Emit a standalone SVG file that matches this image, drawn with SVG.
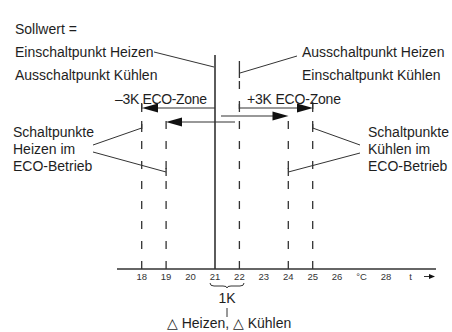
<svg xmlns="http://www.w3.org/2000/svg" width="452" height="332" viewBox="0 0 452 332">
  <style>
    .t { font-family: "Liberation Sans", "DejaVu Sans", Arial, sans-serif; font-size: 14px; fill: #1e1e1e; }
    .s { font-family: "Liberation Sans", Arial, sans-serif; font-size: 9.5px; fill: #333; }
    .ln { stroke: #333; fill: none; }
    .dash { stroke: #333; stroke-width: 1.3; stroke-dasharray: 8 12; fill: none; }
    .lead { stroke: #333; stroke-width: 1; fill: none; }
    .head { fill: #111; stroke: none; }
  </style>
  <rect width="452" height="332" fill="#fff"/>

  <g id="axis">
    <line class="ln" x1="117" y1="269" x2="436" y2="269" stroke-width="1.5"/>
    <text class="s" x="141.7" y="280" text-anchor="middle">18</text>
    <text class="s" x="166.1" y="280" text-anchor="middle">19</text>
    <text class="s" x="190.6" y="280" text-anchor="middle">20</text>
    <text class="s" x="215" y="280" text-anchor="middle">21</text>
    <text class="s" x="239.4" y="280" text-anchor="middle">22</text>
    <text class="s" x="263.8" y="280" text-anchor="middle">23</text>
    <text class="s" x="288.3" y="280" text-anchor="middle">24</text>
    <text class="s" x="312.7" y="280" text-anchor="middle">25</text>
    <text class="s" x="337.1" y="280" text-anchor="middle">26</text>
    <text class="s" x="361.6" y="280" text-anchor="middle">°C</text>
    <text class="s" x="386" y="280" text-anchor="middle">28</text>
    <text class="s" x="410.5" y="280" text-anchor="middle">t</text>
    <path class="ln" d="M424,276.5 H432" stroke-width="1"/>
    <path class="head" d="M435,276.5 L429,274 L429,279 Z"/>
  </g>

  <g id="setpoint-lines">
    <line class="ln" x1="215" y1="55" x2="215" y2="269" stroke-width="1.6"/>
    <line class="dash" x1="239.4" y1="269" x2="239.4" y2="54"/>
  </g>

  <g id="eco-lines">
    <line class="dash" x1="141.7" y1="269" x2="141.7" y2="103"/>
    <line class="dash" x1="166.1" y1="269" x2="166.1" y2="117"/>
    <line class="dash" x1="288.3" y1="269" x2="288.3" y2="111"/>
    <line class="dash" x1="312.7" y1="269" x2="312.7" y2="102"/>
  </g>

  <g id="connectors">
    <line class="ln" x1="215" y1="108" x2="155" y2="108" stroke-width="1.2"/>
    <path class="head" d="M142,108 L158,103.5 L158,112.5 Z"/>
    <line class="ln" x1="141.7" y1="104" x2="141.7" y2="112" stroke-width="1.3"/>
    <line class="ln" x1="239.4" y1="108" x2="300" y2="108" stroke-width="1.2"/>
    <path class="head" d="M313,108 L297,103.5 L297,112.5 Z"/>
    <line class="ln" x1="239.4" y1="104" x2="239.4" y2="112" stroke-width="1.3"/>
    <line class="ln" x1="312.7" y1="104" x2="312.7" y2="112" stroke-width="1.3"/>
    <line class="ln" x1="221" y1="116" x2="275" y2="116" stroke-width="1.2"/>
    <path class="head" d="M288.5,116 L272.5,111.5 L272.5,120.5 Z"/>
    <line class="ln" x1="235" y1="122" x2="179" y2="122" stroke-width="1.2"/>
    <path class="head" d="M166,122 L182,117.5 L182,126.5 Z"/>
    <line class="lead" x1="154" y1="52" x2="214" y2="67"/>
    <line class="lead" x1="297" y1="56" x2="240" y2="73"/>
    <line class="lead" x1="93" y1="145" x2="141.7" y2="128"/>
    <line class="lead" x1="93" y1="152" x2="166.1" y2="172"/>
    <line class="lead" x1="312.7" y1="128" x2="360" y2="145"/>
    <line class="lead" x1="288.3" y1="172" x2="360" y2="153"/>
    <line class="ln" x1="141.7" y1="124" x2="141.7" y2="132" stroke-width="1.3"/>
    <line class="ln" x1="166.1" y1="168" x2="166.1" y2="176" stroke-width="1.3"/>
    <line class="ln" x1="312.7" y1="124" x2="312.7" y2="132" stroke-width="1.3"/>
    <line class="ln" x1="288.3" y1="168" x2="288.3" y2="176" stroke-width="1.3"/>
    <line class="ln" x1="239.4" y1="69" x2="239.4" y2="78" stroke-width="1.3"/>
    <path class="lead" d="M210,283 Q210,286 214,286 H223 Q227,286 227,288 Q227,286 231,286 H240 Q244,286 244,283"/>
    <line class="lead" x1="227" y1="308" x2="227" y2="317" stroke-width="1.2"/>
  </g>

  <g id="label-sollwert">
    <text class="t" x="15" y="34">Sollwert =</text>
    <text class="t" x="15" y="57">Einschaltpunkt Heizen</text>
    <text class="t" x="15" y="80">Ausschaltpunkt Kühlen</text>
  </g>
  <g id="label-right-top">
    <text class="t" x="302" y="57">Ausschaltpunkt Heizen</text>
    <text class="t" x="302" y="80">Einschaltpunkt Kühlen</text>
  </g>
  <g id="label-eco">
    <text class="t" x="115" y="104" textLength="92">–3K ECO-Zone</text>
    <text class="t" x="247" y="104" textLength="94">+3K ECO-Zone</text>
  </g>
  <g id="label-heizen-eco">
    <text class="t" x="13" y="137">Schaltpunkte</text>
    <text class="t" x="13" y="154">Heizen im</text>
    <text class="t" x="13" y="171">ECO-Betrieb</text>
  </g>
  <g id="label-kuehlen-eco">
    <text class="t" x="368" y="137">Schaltpunkte</text>
    <text class="t" x="368" y="154">Kühlen im</text>
    <text class="t" x="368" y="171">ECO-Betrieb</text>
  </g>
  <g id="label-1k">
    <text class="t" x="227" y="303" text-anchor="middle">1K</text>
    <text class="t" x="167" y="328">△ Heizen, △ Kühlen</text>
  </g>
</svg>
